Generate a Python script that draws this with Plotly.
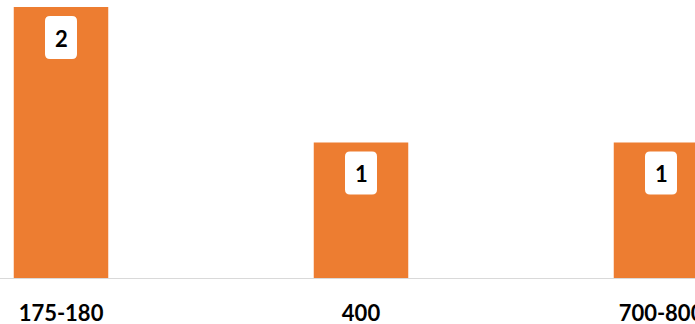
import plotly.graph_objects as go

categories = ["175-180", "400", "700-800"]
counts = [2, 1, 1]

ORANGE = "#ED7D31"
FONT = "Lato"

fig = go.Figure()
fig.add_trace(go.Bar(
    x=categories, y=counts,
    marker=dict(color=ORANGE, line=dict(width=0)),
    hoverinfo="skip",
))

# rounded white label boxes anchored at each bar top, sized in pixels
def rounded_box(x0, x1, y0, y1, r):
    return (f"M {x0+r},{y0} L {x1-r},{y0} Q {x1},{y0} {x1},{y0-r} "
            f"L {x1},{y1+r} Q {x1},{y1} {x1-r},{y1} L {x0+r},{y1} "
            f"Q {x0},{y1} {x0},{y1+r} L {x0},{y0-r} Q {x0},{y0} {x0+r},{y0} Z")

for i, v in enumerate(counts):
    fig.add_shape(
        type="path", xref="x", yref="y",
        xsizemode="pixel", ysizemode="pixel",
        xanchor=i, yanchor=v,
        path=rounded_box(-16, 16, -9, -52, 5),
        fillcolor="white", line=dict(width=0), layer="above",
    )
    fig.add_annotation(
        x=i, y=v, xref="x", yref="y", text=str(v), showarrow=False,
        yanchor="middle", yshift=-31,
        font=dict(family=FONT, size=22, color="black", weight="bold"),
    )

fig.update_layout(
    width=695, height=324,
    margin=dict(l=0, r=0, t=0, b=46, autoexpand=False),
    paper_bgcolor="white", plot_bgcolor="white",
    showlegend=False, bargap=0.685,
    xaxis=dict(
        type="category", range=[-61/300, 634/300], automargin=False,
        showline=True, linecolor="#D9D9D9", linewidth=1,
        showgrid=False, ticks="", ticklabelstandoff=16,
        tickfont=dict(family=FONT, size=22, color="black", weight="bold"),
    ),
    yaxis=dict(range=[0, 2.052], visible=False, showgrid=False, automargin=False),
)

fig.write_html("out.html")
